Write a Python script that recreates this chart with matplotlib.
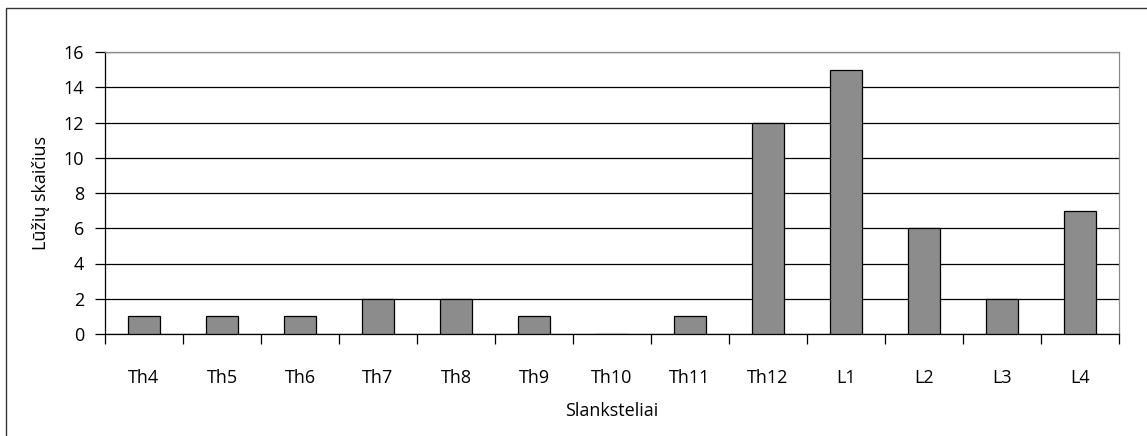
import matplotlib
matplotlib.use("Agg")
import matplotlib.pyplot as plt
from matplotlib.patches import Rectangle

categories = ["Th4", "Th5", "Th6", "Th7", "Th8", "Th9", "Th10", "Th11", "Th12", "L1", "L2", "L3", "L4"]
values = [1, 1, 1, 2, 2, 1, 0, 1, 12, 15, 6, 2, 7]
yticks = [0, 2, 4, 6, 8, 10, 12, 14, 16]

plt.rcParams['font.family'] = ['Open Sans', 'DejaVu Sans']

fig = plt.figure(figsize=(11.47, 4.36), dpi=100)
ax = fig.add_axes([105/1147, 1-334/436, (1119-105)/1147, (334-52)/436])

x = list(range(len(categories)))
ax.bar(x, values, width=0.42, color="#8c8c8c", edgecolor="black", linewidth=0.9, zorder=3)

ax.set_xlim(-0.5, len(categories)-0.5)
ax.set_ylim(0, 16)
ax.set_yticks(yticks)
ax.yaxis.grid(True, color="black", linewidth=0.9, zorder=0)
ax.set_axisbelow(True)

ax.set_xticks([i + 0.5 for i in range(-1, len(categories))], minor=False)
ax.set_xticklabels([])
ax.set_xticks(x, minor=True)
ax.set_xticklabels(categories, minor=True, fontsize=13)
ax.tick_params(axis="x", which="minor", length=0, pad=25)
ax.tick_params(axis="x", which="major", length=7, width=0.9, direction="out", color="black")
ax.tick_params(axis="y", length=7, width=0.9, labelsize=13, pad=8)

for s in ["left", "bottom"]:
    ax.spines[s].set_color("black")
    ax.spines[s].set_linewidth(0.9)
for s in ["top", "right"]:
    ax.spines[s].set_color("#8a8a8a")
    ax.spines[s].set_linewidth(0.9)

ax.set_ylabel("Lūžių skaičius", fontsize=13, labelpad=10)
ax.set_xlabel("Slanksteliai", fontsize=13, labelpad=11)

fig.patches.append(Rectangle((6/1147, -0.1), 1.2, 1.1 - 8/436, transform=fig.transFigure,
                             fill=False, edgecolor="#333333", linewidth=1.0))

fig.savefig("out.png", dpi=100)
